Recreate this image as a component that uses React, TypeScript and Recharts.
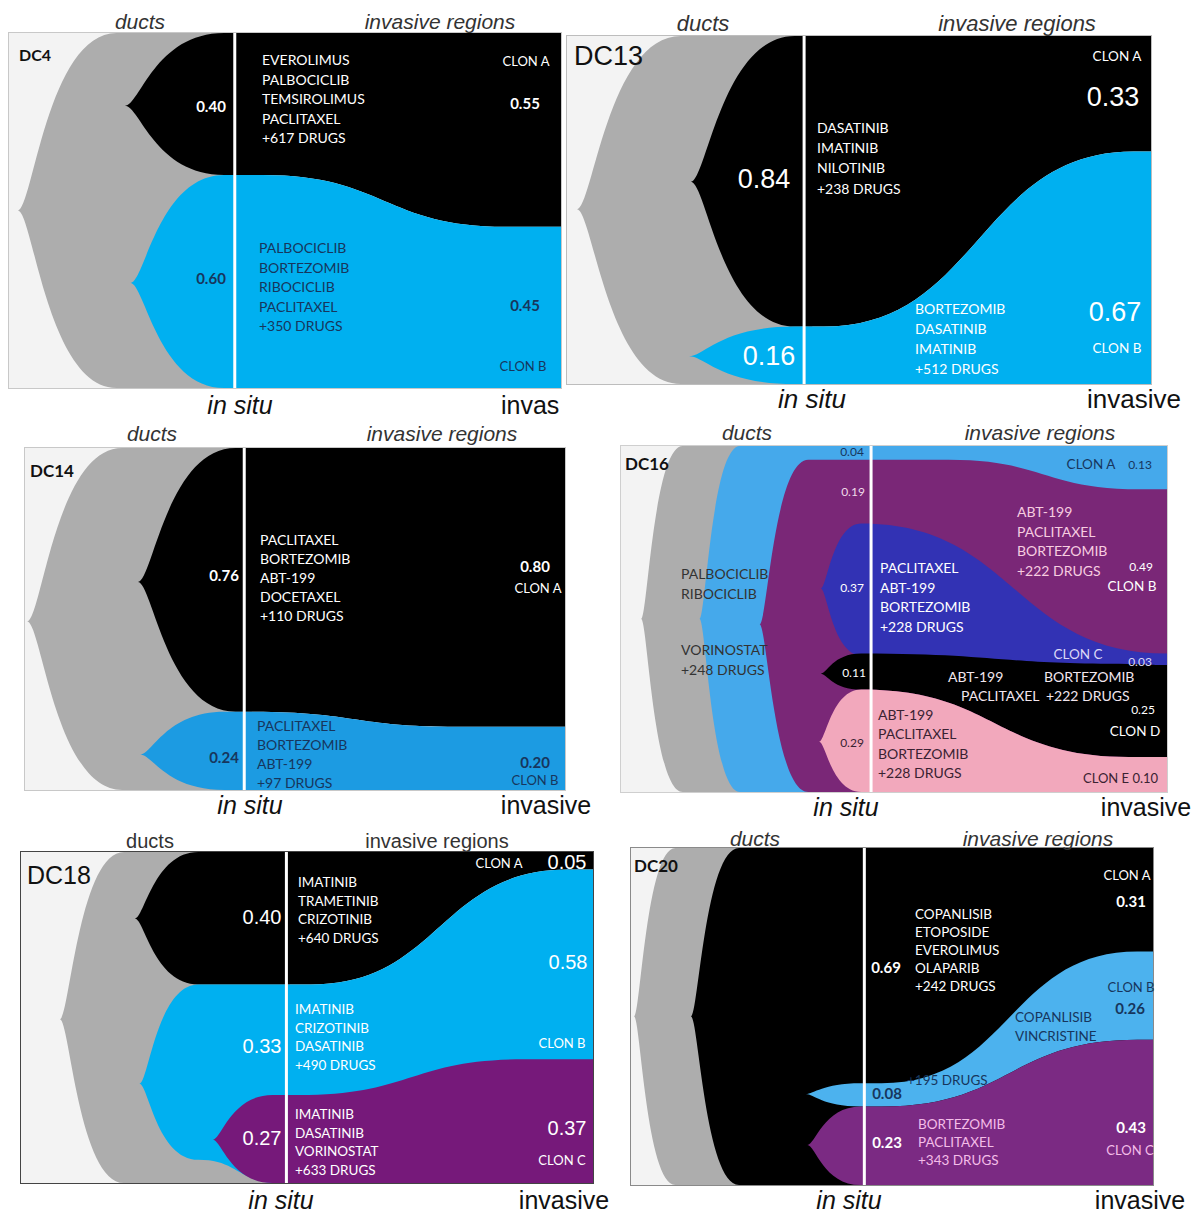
import React from 'react';
import { AreaChart, Area, XAxis, YAxis, ReferenceLine } from 'recharts';

// every point: [x, top, bottom], fractions of the panel box (0 = left / top)
type Pt = [number, number, number];

// DC4
const dc4Ducts: Pt[] = [[0.016, 0.5, 0.5], [0.195, 0, 1], [0.42, 0, 1]];
const dc4ClonA: Pt[] = [[0.21, 0.205, 0.205], [0.39, 0, 0.4], [0.46, 0, 0.4], [0.9, 0, 0.546], [1, 0, 0.546]];
const dc4ClonB: Pt[] = [[0.22, 0.704, 0.704], [0.39, 0.4, 1], [0.46, 0.4, 1], [0.9, 0.546, 1], [1, 0.546, 1]];

// DC13
const dc13Ducts: Pt[] = [[0.017, 0.498, 0.498], [0.195, 0, 1], [0.42, 0, 1]];
const dc13ClonA: Pt[] = [[0.212, 0.419, 0.419], [0.39, 0, 0.835], [0.44, 0, 0.835], [0.97, 0, 0.332], [1, 0, 0.332]];
const dc13ClonB: Pt[] = [[0.209, 0.92, 0.92], [0.39, 0.835, 1], [0.44, 0.835, 1], [0.97, 0.332, 1], [1, 0.332, 1]];

// DC14
const dc14Ducts: Pt[] = [[0.004, 0.507, 0.507], [0.18, 0, 1], [0.42, 0, 1]];
const dc14ClonA: Pt[] = [[0.209, 0.392, 0.392], [0.39, 0, 0.771], [0.42, 0, 0.771], [0.8, 0, 0.815], [1, 0, 0.815]];
const dc14ClonB: Pt[] = [[0.213, 0.896, 0.896], [0.37, 0.771, 1], [0.42, 0.771, 1], [0.8, 0.815, 1], [1, 0.815, 1]];

// DC16
const dc16Ducts: Pt[] = [[0.037, 0.5, 0.5], [0.113, 0, 1], [0.24, 0, 1]];
const dc16ClonA: Pt[] = [[0.144, 0.5, 0.5], [0.218, 0, 1], [1, 0, 1]];
const dc16ClonB: Pt[] = [[0.254, 0.516, 0.516], [0.343, 0.04, 1], [0.6, 0.04, 1], [0.95, 0.125, 1], [1, 0.125, 1]];
const dc16ClonC: Pt[] = [[0.366, 0.412, 0.412], [0.44, 0.224, 0.605], [1, 0.6, 0.64]];
const dc16ClonD: Pt[] = [[0.366, 0.658, 0.658], [0.44, 0.6, 0.704], [0.93, 0.63, 0.899], [1, 0.633, 0.899]];
const dc16ClonE: Pt[] = [[0.363, 0.855, 0.855], [0.44, 0.704, 1], [0.93, 0.899, 1], [1, 0.899, 1]];

// DC18
const dc18Ducts: Pt[] = [[0.068, 0.505, 0.505], [0.18, 0, 1], [0.47, 0, 1]];
const dc18ClonA: Pt[] = [[0.199, 0.201, 0.201], [0.31, 0, 0.4], [0.507, 0, 0.4], [0.956, 0, 0.053], [1, 0, 0.053]];
const dc18ClonB: Pt[] = [[0.207, 0.7, 0.7], [0.31, 0.4, 0.93], [0.45, 0.4, 1], [0.507, 0.4, 1], [0.956, 0.053, 1], [1, 0.053, 1]];
const dc18ClonC: Pt[] = [[0.335, 0.869, 0.869], [0.44, 0.734, 1], [0.486, 0.734, 1], [0.88, 0.626, 1], [1, 0.626, 1]];

// DC20
const dc20Ducts: Pt[] = [[0.006, 0.5, 0.5], [0.085, 0, 1], [0.22, 0, 1]];
const dc20ClonA: Pt[] = [[0.115, 0.5, 0.5], [0.207, 0, 1], [1, 0, 1]];
const dc20ClonB: Pt[] = [[0.335, 0.73, 0.73], [0.44, 0.698, 0.767], [0.48, 0.698, 0.767], [0.97, 0.307, 0.569], [1, 0.307, 0.569]];
const dc20ClonC: Pt[] = [[0.338, 0.881, 0.881], [0.44, 0.767, 1], [0.48, 0.767, 1], [0.97, 0.569, 1], [1, 0.569, 1]];

// drug lists
const dc4DrugsA = ['EVEROLIMUS', 'PALBOCICLIB', 'TEMSIROLIMUS', 'PACLITAXEL', '+617 DRUGS'];
const dc4DrugsB = ['PALBOCICLIB', 'BORTEZOMIB', 'RIBOCICLIB', 'PACLITAXEL', '+350 DRUGS'];
const dc13DrugsA = ['DASATINIB', 'IMATINIB', 'NILOTINIB', '+238 DRUGS'];
const dc13DrugsB = ['BORTEZOMIB', 'DASATINIB', 'IMATINIB', '+512 DRUGS'];
const dc14DrugsA = ['PACLITAXEL', 'BORTEZOMIB', 'ABT-199', 'DOCETAXEL', '+110 DRUGS'];
const dc14DrugsB = ['PACLITAXEL', 'BORTEZOMIB', 'ABT-199', '+97 DRUGS'];
const dc16DrugsDucts = ['PALBOCICLIB', 'RIBOCICLIB'];
const dc16DrugsDucts2 = ['VORINOSTAT', '+248 DRUGS'];
const dc16DrugsB = ['ABT-199', 'PACLITAXEL', 'BORTEZOMIB', '+222 DRUGS'];
const dc16DrugsC = ['PACLITAXEL', 'ABT-199', 'BORTEZOMIB', '+228 DRUGS'];
const dc16DrugsE = ['ABT-199', 'PACLITAXEL', 'BORTEZOMIB', '+228 DRUGS'];
const dc18DrugsA = ['IMATINIB', 'TRAMETINIB', 'CRIZOTINIB', '+640 DRUGS'];
const dc18DrugsB = ['IMATINIB', 'CRIZOTINIB', 'DASATINIB', '+490 DRUGS'];
const dc18DrugsC = ['IMATINIB', 'DASATINIB', 'VORINOSTAT', '+633 DRUGS'];
const dc20DrugsA = ['COPANLISIB', 'ETOPOSIDE', 'EVEROLIMUS', 'OLAPARIB', '+242 DRUGS'];
const dc20DrugsB = ['COPANLISIB', 'VINCRISTINE'];
const dc20DrugsC = ['BORTEZOMIB', 'PACLITAXEL', '+343 DRUGS'];

const LATO = 'Lato, "Open Sans", sans-serif';
const ARIAL = '"Liberation Sans", Arial, sans-serif';
const BG = '#f3f3f3';
const GRAY = '#adadad';
const CYAN = '#00b0f0';
const NAVY = '#17365d';

// bump curve with flat ends; the segment leaving a clone's tip opens fast and levels off slowly
const fishCurve = (ctx: any) => {
  let pts: number[][] = [];
  let line = NaN;
  return {
    areaStart() { line = 0; },
    areaEnd() { line = NaN; },
    lineStart() { pts = []; },
    point(x: number, y: number) { pts.push([+x, +y]); },
    lineEnd() {
      const n = pts.length;
      if (n) {
        if (line) ctx.lineTo(pts[0][0], pts[0][1]);
        else ctx.moveTo(pts[0][0], pts[0][1]);
        const fwd = pts[n - 1][0] >= pts[0][0];
        for (let i = 1; i < n; i++) {
          const [x0, y0] = pts[i - 1];
          const [x1, y1] = pts[i];
          const dx = x1 - x0;
          let a = 0.5;
          let b = 0.5;
          if (fwd && i === 1) { a = 0.15; b = 0.7; }
          if (!fwd && i === n - 1) { a = 0.7; b = 0.15; }
          ctx.bezierCurveTo(x0 + a * dx, y0, x1 - b * dx, y1, x1, y1);
        }
      }
      if (line || (line !== 0 && n === 1)) ctx.closePath();
      line = 1 - line;
    },
  };
};

interface Band { pts: Pt[]; color: string }

const Fish = ({ x, y, w, h, border, insitu, bands }: { x: number; y: number; w: number; h: number; border: string; insitu: number; bands: Band[] }) => (
  <div style={{ position: 'absolute', left: x, top: y, width: w, height: h, background: BG, outline: `1px solid ${border}` }}>
    {bands.map((b, i) => (
      <div key={i} style={{ position: 'absolute', left: 0, top: 0 }}>
        <AreaChart width={w} height={h} data={b.pts.map(([px, t, bt]) => ({ x: px, v: [t, bt] }))} margin={{ top: 0, right: 0, bottom: 0, left: 0 }}>
          <XAxis type="number" dataKey="x" domain={[0, 1]} hide />
          <YAxis type="number" domain={[0, 1]} reversed hide />
          <Area type={fishCurve as any} dataKey="v" fill={b.color} fillOpacity={1} stroke="none" isAnimationActive={false} />
          {i === bands.length - 1 && <ReferenceLine x={insitu} stroke="#fff" strokeWidth={3} />}
        </AreaChart>
      </div>
    ))}
  </div>
);

type TxtProps = { x: number; y: number; t: string; size?: number; color?: string; bold?: boolean; italic?: boolean; font?: string; mid?: boolean };
const Txt = ({ x, y, t, size = 14, color = '#fff', bold, italic, font = LATO, mid }: TxtProps) => (
  <div style={{
    position: 'absolute', left: x, top: y, transform: `translate(${mid ? '-50%' : '0'}, -50%)`,
    fontFamily: font, fontSize: size, fontWeight: bold ? 700 : 400, fontStyle: italic ? 'italic' : 'normal',
    color, lineHeight: 1, whiteSpace: 'nowrap',
  }}>{t}</div>
);

const Drugs = ({ x, y, step, lines, size = 14, color = '#fff' }: { x: number; y: number; step: number; lines: string[]; size?: number; color?: string }) => (
  <>{lines.map((t, i) => <Txt key={i} x={x} y={y + i * step} t={t} size={size} color={color} />)}</>
);

const Heads = ({ d, r, s, v, inv = 'invasive', italicTop = true, top = 21, bot = 25 }: { d: number[]; r: number[]; s: number[]; v: number[]; inv?: string; italicTop?: boolean; top?: number; bot?: number }) => (
  <>
    <Txt x={d[0]} y={d[1]} t="ducts" size={top} italic={italicTop} color="#333" font={ARIAL} mid />
    <Txt x={r[0]} y={r[1]} t="invasive regions" size={top} italic={italicTop} color="#333" font={ARIAL} mid />
    <Txt x={s[0]} y={s[1]} t="in situ" size={bot} italic color="#111" font={ARIAL} mid />
    <Txt x={v[0]} y={v[1]} t={inv} size={bot} color="#111" font={ARIAL} mid={inv === 'invasive'} />
  </>
);

export default function App() {
  return (
    <div style={{ position: 'absolute', left: 0, top: 0, width: 1203, height: 1214, background: '#fff', overflow: 'hidden' }}>
      {/* DC4 */}
      <Fish x={9} y={33} w={552} h={355} border="#c8c8c8" insitu={0.409}
        bands={[{ pts: dc4Ducts, color: GRAY }, { pts: dc4ClonA, color: '#000' }, { pts: dc4ClonB, color: CYAN }]} />
      <Heads d={[140, 21]} r={[440, 21]} s={[240, 405]} v={[501, 405]} inv="invas" />
      <Txt x={19} y={55} t="DC4" size={16} bold color="#111" />
      <Txt x={211} y={106} t="0.40" size={15} bold mid />
      <Txt x={211} y={278} t="0.60" size={15} bold color={NAVY} mid />
      <Drugs x={262} y={60} step={19.5} lines={dc4DrugsA} />
      <Drugs x={259} y={248} step={19.5} lines={dc4DrugsB} color={NAVY} />
      <Txt x={526} y={61} t="CLON A" size={13} mid />
      <Txt x={525} y={103} t="0.55" size={15} bold mid />
      <Txt x={525} y={305} t="0.45" size={15} bold color={NAVY} mid />
      <Txt x={523} y={366} t="CLON B" size={13} color={NAVY} mid />

      {/* DC13 */}
      <Fish x={567} y={36} w={584} h={348} border="#bdbdbd" insitu={0.406}
        bands={[{ pts: dc13Ducts, color: GRAY }, { pts: dc13ClonA, color: '#000' }, { pts: dc13ClonB, color: CYAN }]} />
      <Heads d={[703, 24]} r={[1017, 24]} s={[812, 399]} v={[1134, 399]} top={22} bot={26} />
      <Txt x={574} y={56} t="DC13" size={27} font={ARIAL} color="#111" />
      <Txt x={764} y={179} t="0.84" size={27} font={ARIAL} mid />
      <Drugs x={817} y={128} step={20.2} lines={dc13DrugsA} />
      <Txt x={1117} y={57} t="CLON A" size={13.5} mid />
      <Txt x={1113} y={97} t="0.33" size={27} font={ARIAL} mid />
      <Txt x={769} y={356} t="0.16" size={27} font={ARIAL} mid />
      <Drugs x={915} y={309} step={20} lines={dc13DrugsB} />
      <Txt x={1115} y={312} t="0.67" size={27} font={ARIAL} mid />
      <Txt x={1117} y={349} t="CLON B" size={13.5} mid />

      {/* DC14 */}
      <Fish x={25} y={448} w={540} h={342} border="#c8c8c8" insitu={0.406}
        bands={[{ pts: dc14Ducts, color: GRAY }, { pts: dc14ClonA, color: '#000' }, { pts: dc14ClonB, color: '#1c9be2' }]} />
      <Heads d={[152, 433]} r={[442, 433]} s={[250, 805]} v={[546, 805]} />
      <Txt x={30} y={470} t="DC14" size={17} bold color="#111" />
      <Txt x={224} y={575} t="0.76" size={15} bold mid />
      <Drugs x={260} y={540} step={19} lines={dc14DrugsA} />
      <Txt x={535} y={566} t="0.80" size={15} bold mid />
      <Txt x={538} y={588} t="CLON A" size={13} mid />
      <Txt x={224} y={757} t="0.24" size={15} bold color={NAVY} mid />
      <Drugs x={257} y={726} step={19} lines={dc14DrugsB} color={NAVY} />
      <Txt x={535} y={762} t="0.20" size={15} bold color={NAVY} mid />
      <Txt x={535} y={780} t="CLON B" size={13} color={NAVY} mid />

      {/* DC16 */}
      <Fish x={621} y={446} w={546} h={346} border="#cfcfcf" insitu={0.458}
        bands={[
          { pts: dc16Ducts, color: GRAY }, { pts: dc16ClonA, color: '#45a9eb' }, { pts: dc16ClonB, color: '#7a2777' },
          { pts: dc16ClonC, color: '#3232b4' }, { pts: dc16ClonD, color: '#000' }, { pts: dc16ClonE, color: '#f2a8bc' },
        ]} />
      <Heads d={[747, 432]} r={[1040, 432]} s={[846, 807]} v={[1146, 807]} />
      <Txt x={625} y={463} t="DC16" size={17} bold color="#111" />
      <Txt x={852} y={452} t="0.04" size={12} color={NAVY} mid />
      <Txt x={853} y={492} t="0.19" size={12} color="#f0dbe9" mid />
      <Txt x={852} y={588} t="0.37" size={12} mid />
      <Txt x={854} y={673} t="0.11" size={12} mid />
      <Txt x={852} y={743} t="0.29" size={12} color="#3a2232" mid />
      <Txt x={1091} y={465} t="CLON A" size={13.5} color={NAVY} mid />
      <Txt x={1140} y={465} t="0.13" size={12} color={NAVY} mid />
      <Drugs x={1017} y={512} step={19.5} lines={dc16DrugsB} color="#f7cde0" />
      <Txt x={1141} y={567} t="0.49" size={12} mid />
      <Txt x={1132} y={587} t="CLON B" size={13.5} mid />
      <Drugs x={681} y={574} step={19.5} lines={dc16DrugsDucts} color="#333" />
      <Drugs x={681} y={650} step={20} lines={dc16DrugsDucts2} color="#333" />
      <Drugs x={880} y={568} step={19.7} lines={dc16DrugsC} />
      <Txt x={1078} y={655} t="CLON C" size={13.5} color="#dcd8f6" mid />
      <Txt x={1140} y={662} t="0.03" size={12} color="#dcd8f6" mid />
      <Txt x={948} y={677} t="ABT-199" color="#f1e6ee" />
      <Txt x={1044} y={677} t="BORTEZOMIB" color="#f1e6ee" />
      <Txt x={961} y={696} t="PACLITAXEL" color="#f1e6ee" />
      <Txt x={1046} y={696} t="+222 DRUGS" color="#f1e6ee" />
      <Txt x={1143} y={710} t="0.25" size={12} mid />
      <Txt x={1135} y={732} t="CLON D" size={13.5} mid />
      <Drugs x={878} y={715} step={19.4} lines={dc16DrugsE} color="#3a2232" />
      <Txt x={1083} y={778} t="CLON E 0.10" size={13} color="#3a2232" />

      {/* DC18 */}
      <Fish x={21} y={852} w={572} h={331} border="#444" insitu={0.464}
        bands={[{ pts: dc18Ducts, color: GRAY }, { pts: dc18ClonA, color: '#000' }, { pts: dc18ClonB, color: CYAN }, { pts: dc18ClonC, color: '#76197a' }]} />
      <Heads d={[150, 841]} r={[437, 841]} s={[281, 1200]} v={[564, 1200]} italicTop={false} top={20} />
      <Txt x={27} y={875} t="DC18" size={25} font={ARIAL} color="#111" />
      <Txt x={262} y={917} t="0.40" size={20} font={ARIAL} mid />
      <Drugs x={298} y={883} step={18.5} lines={dc18DrugsA} size={13.5} />
      <Txt x={499} y={863} t="CLON A" size={13} mid />
      <Txt x={567} y={862} t="0.05" size={20} font={ARIAL} mid />
      <Txt x={568} y={962} t="0.58" size={20} font={ARIAL} mid />
      <Txt x={562} y={1043} t="CLON B" size={13} mid />
      <Txt x={262} y={1046} t="0.33" size={20} font={ARIAL} mid />
      <Drugs x={295} y={1010} step={18.7} lines={dc18DrugsB} size={13.5} />
      <Txt x={262} y={1138} t="0.27" size={20} font={ARIAL} mid />
      <Drugs x={295} y={1115} step={18.7} lines={dc18DrugsC} size={13.5} />
      <Txt x={567} y={1128} t="0.37" size={20} font={ARIAL} mid />
      <Txt x={562} y={1160} t="CLON C" size={13} mid />

      {/* DC20 */}
      <Fish x={631} y={848} w={522} h={337} border="#8a8a8a" insitu={0.447}
        bands={[{ pts: dc20Ducts, color: GRAY }, { pts: dc20ClonA, color: '#000' }, { pts: dc20ClonB, color: '#4cb2ee' }, { pts: dc20ClonC, color: '#7b2a83' }]} />
      <Heads d={[755, 838]} r={[1038, 838]} s={[849, 1200]} v={[1140, 1200]} />
      <Txt x={634} y={865} t="DC20" size={17} bold color="#111" />
      <Txt x={1127} y={875} t="CLON A" size={13} mid />
      <Txt x={1131} y={901} t="0.31" size={15} bold mid />
      <Drugs x={915} y={915} step={18} lines={dc20DrugsA} size={13.5} />
      <Txt x={886} y={967} t="0.69" size={15} bold mid />
      <Txt x={1131} y={987} t="CLON B" size={13} color={NAVY} mid />
      <Txt x={1130} y={1008} t="0.26" size={15} bold color={NAVY} mid />
      <Drugs x={1015} y={1018} step={19} lines={dc20DrugsB} size={13.5} color={NAVY} />
      <Txt x={907} y={1081} t="+195 DRUGS" size={13.5} color={NAVY} />
      <Txt x={887} y={1093} t="0.08" size={15} bold color={NAVY} mid />
      <Txt x={887} y={1142} t="0.23" size={15} bold mid />
      <Drugs x={918} y={1125} step={18} lines={dc20DrugsC} size={13.5} color="#f4bde8" />
      <Txt x={1131} y={1127} t="0.43" size={15} bold mid />
      <Txt x={1130} y={1150} t="CLON C" size={13} color="#f4bde8" mid />
    </div>
  );
}
